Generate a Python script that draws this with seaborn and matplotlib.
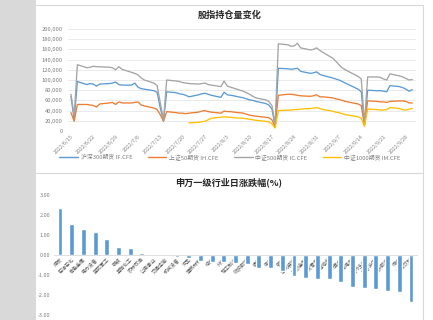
import pandas as pd
import matplotlib
matplotlib.use("Agg")
import matplotlib.pyplot as plt
import matplotlib.dates as mdates
from matplotlib.lines import Line2D
from matplotlib.patches import Rectangle
from matplotlib.ticker import FuncFormatter, FixedLocator
import seaborn as sns

# ---------------- data: index futures open interest (current-month contracts) ----------------
june_days = [15, 16, 17, 20, 21, 22, 23, 24, 27, 28, 29, 30]
july_days = [1, 4, 5, 6, 7, 8, 11, 12, 13, 14, 15, 18, 19, 20, 21, 22, 25, 26, 27, 28, 29]
aug_days = [1, 2, 3, 4, 5, 8, 9, 10, 11, 12, 15, 16, 17, 18, 19, 22, 23, 24, 25, 26, 29, 30, 31]
sep_days = [1, 2, 5, 6, 7, 8, 9, 13, 14, 15, 16, 19, 20, 21, 22, 23, 26, 27, 28, 29, 30]

series_names = ["沪深300期货 IF.CFE", "上证50期货 IH.CFE", "中证500期货 IC.CFE", "中证1000期货 IM.CFE"]
series_colors = ["#5B9BD5", "#ED7D31", "#A5A5A5", "#FFC000"]

if_oi = [68000, 22000, 97000, 91000, 93000, 92000, 88000, 92000, 93000, 94000, 96000, 91000,
         90000, 90000, 94000, 86000, 83000, 82000, 79000, 76000, 45000, 20000, 77000, 75000,
         73000, 72000, 70000, 67000, 71000, 73000, 74000, 72000, 70000,
         66000, 76000, 71000, 70000, 69000, 65000, 63000, 61000, 60000, 58000, 54000, 51000,
         43000, 10000, 123000, 122000, 121000, 122000, 123000, 117000, 113000, 114000, 116000,
         111000, 109000, 104000, 102000, 100000, 97000, 94000, 82000, 77000, 12000, 80000,
         79000, 79000, 78000, 77000, 89000, 87000, 85000, 82000, 78000, 81000]

ih_oi = [36000, 19000, 52000, 52000, 51000, 50000, 47000, 53000, 55000, 56000, 52000, 57000,
         55000, 55000, 56000, 57000, 51000, 49000, 45000, 42000, 32000, 19000, 38000, 36000,
         35000, 35000, 34000, 35000, 37000, 39000, 40000, 38000, 37000,
         35000, 39000, 38000, 38000, 37000, 35000, 33000, 31000, 30000, 29000, 27000, 26000,
         22000, 8000, 70000, 72000, 72000, 71000, 70000, 69000, 68000, 69000, 71000,
         67000, 67000, 65000, 63000, 62000, 60000, 58000, 53000, 50000, 11000, 59000,
         58000, 57000, 57000, 56000, 58000, 59000, 59000, 58000, 55000, 55000]

ic_oi = [72000, 30000, 130000, 124000, 125000, 127000, 126000, 126000, 125000, 124000, 120000, 126000,
         121000, 115000, 113000, 110000, 104000, 100000, 94000, 89000, 55000, 21000, 100000, 98000,
         97000, 95000, 94000, 93000, 92000, 93000, 94000, 91000, 90000,
         87000, 98000, 88000, 86000, 84000, 78000, 75000, 72000, 68000, 65000, 61000, 58000,
         50000, 13000, 171000, 169000, 166000, 167000, 172000, 163000, 159000, 160000, 163000,
         158000, 154000, 143000, 137000, 130000, 124000, 120000, 107000, 102000, 14000, 106000,
         106000, 105000, 102000, 100000, 112000, 108000, 106000, 103000, 100000, 101000]

im_oi = [None] * 27 + [
         16000, 17000, 18000, 19000, 22000, 25000,
         27000, 28000, 27000, 27000, 26000, 25000, 24000, 23000, 22000, 21000, 19000, 18000,
         14000, 6000, 40000, 41000, 41000, 42000, 42000, 43000, 44000, 45000, 46000,
         44000, 42000, 39000, 37000, 36000, 34000, 32000, 28000, 25000, 9000, 43000,
         42000, 41000, 41000, 42000, 46000, 44000, 42000, 41000, 43000, 44000]

# ---------------- data: Shenwan level-1 industry daily change (%) ----------------
industries = ["煤炭", "石油石化", "有色金属", "电力设备", "国防军工", "钢铁", "基础化工", "农林牧渔",
              "公用事业", "交通运输", "机械设备", "汽车", "建筑材料", "综合", "环保", "轻工制造",
              "纺织服饰", "通信", "电子", "银行", "建筑装饰", "非银金融", "商贸零售", "房地产",
              "计算机", "家用电器", "医药生物", "美容护理", "社会服务", "传媒", "食品饮料"]
pct_change = [2.35, 1.55, 1.30, 1.15, 0.82, 0.38, 0.33, 0.08,
              0.01, -0.01, -0.08, -0.15, -0.28, -0.35, -0.36, -0.42,
              -0.43, -0.63, -0.66, -0.80, -1.03, -1.15, -1.18, -1.22,
              -1.33, -1.62, -1.63, -1.70, -1.78, -1.83, -2.35]

# ---------------- build frames ----------------
dates = ([pd.Timestamp(2022, 6, d) for d in june_days] + [pd.Timestamp(2022, 7, d) for d in july_days]
         + [pd.Timestamp(2022, 8, d) for d in aug_days] + [pd.Timestamp(2022, 9, d) for d in sep_days])

frames = []
for name, vals in zip(series_names, [if_oi, ih_oi, ic_oi, im_oi]):
    frames.append(pd.DataFrame({"日期": dates, "合约": name, "持仓量": vals}))
oi_df = pd.concat(frames, ignore_index=True).dropna()
oi_df["持仓量"] = oi_df["持仓量"].astype(float)

ind_df = pd.DataFrame({"行业": industries, "涨跌幅": pct_change})

# ---------------- styling ----------------
sns.set_theme(style="white")
plt.rcParams["font.family"] = ["Noto Sans CJK SC", "DejaVu Sans"]
plt.rcParams["axes.unicode_minus"] = False

W, H = 433, 320
fig = plt.figure(figsize=(W / 100, H / 100), dpi=100)
fig.patch.set_facecolor("white")

def fx(px):
    return px / W

def fy(py):
    return 1 - py / H

# page margin and chart frames
fig.add_artist(Rectangle((0, 0), fx(36), 1, transform=fig.transFigure, color="#d9d9d9", lw=0, zorder=0))
frame_kw = dict(transform=fig.transFigure, color="#d9d9d9", lw=0.8)
fig.add_artist(Line2D([fx(36), fx(423)], [fy(5), fy(5)], **frame_kw))
fig.add_artist(Line2D([fx(36), fx(423)], [fy(173), fy(173)], **frame_kw))
fig.add_artist(Line2D([fx(423), fx(423)], [fy(5), 0], **frame_kw))

tick_color = "#7f7f7f"

# ---------------- top: open interest lines ----------------
ax1 = fig.add_axes([fx(67.8), fy(131), fx(415.5 - 67.8), (131 - 29) / H])
sns.lineplot(data=oi_df, x="日期", y="持仓量", hue="合约", hue_order=series_names,
             palette=series_colors, linewidth=0.95, estimator=None, legend=False, ax=ax1)
ax1.set_xlim(pd.Timestamp(2022, 6, 14), pd.Timestamp(2022, 10, 1))
ax1.set_ylim(0, 200000)
ax1.set_yticks(range(0, 200001, 20000))
ax1.yaxis.set_major_formatter(FuncFormatter(lambda v, p: f"{int(v):,}"))
week_ticks = pd.date_range("2022-06-15", "2022-09-28", freq="7D")
ax1.xaxis.set_major_locator(FixedLocator(mdates.date2num(week_ticks)))
ax1.xaxis.set_major_formatter(FuncFormatter(
    lambda v, p: (lambda d: f"{d.year}/{d.month}/{d.day}")(mdates.num2date(v))))
ax1.grid(axis="y", color="#e6e6e6", lw=0.6)
ax1.grid(axis="x", visible=False)
for s in ax1.spines.values():
    s.set_visible(False)
ax1.tick_params(axis="y", length=0, pad=3.5, labelsize=4.2, labelcolor=tick_color)
ax1.tick_params(axis="x", length=0, pad=2, labelsize=3.8, labelcolor=tick_color)
for lab in ax1.get_xticklabels():
    lab.set_rotation(45)
    lab.set_ha("right")
    lab.set_rotation_mode("anchor")
ax1.set_xlabel("")
ax1.set_ylabel("")

handles = [Line2D([], [], color=c, lw=1.0) for c in series_colors]
fig.legend(handles, series_names, loc="center", bbox_to_anchor=(fx(230), fy(157)), ncol=4,
           frameon=False, fontsize=4.2, handlelength=3.2, columnspacing=2.6, handletextpad=0.5,
           labelcolor=tick_color)

fig.text(fx(230), fy(15.5), "股指持仓量变化", ha="center", va="center",
         fontsize=6.6, fontweight="bold", color="#262626")

# ---------------- bottom: industry bars ----------------
ax2 = fig.add_axes([fx(54.15), 0, fx(362.7), 125 / H])
sns.barplot(data=ind_df, x="行业", y="涨跌幅", color="#5B9BD5", saturation=1, width=0.42, ax=ax2)
ax2.set_xlim(-0.5, len(industries) - 0.5)
ax2.set_ylim(-3.25, 3.0)
ax2.set_yticks([3, 2, 1, 0, -1, -2, -3])
ax2.yaxis.set_major_formatter(FuncFormatter(lambda v, p: f"{v:.2f}"))
for name, s in ax2.spines.items():
    s.set_visible(name == "bottom")
ax2.spines["bottom"].set_position(("data", 0))
ax2.spines["bottom"].set_color("#d9d9d9")
ax2.spines["bottom"].set_linewidth(0.6)
ax2.tick_params(axis="y", length=0, pad=3, labelsize=4.0, labelcolor=tick_color)
ax2.tick_params(axis="x", length=0, pad=1.5, labelsize=3.6, labelcolor="#595959")
for lab in ax2.get_xticklabels():
    lab.set_rotation(45)
    lab.set_ha("right")
    lab.set_rotation_mode("anchor")
ax2.set_xlabel("")
ax2.set_ylabel("")

fig.text(fx(229), fy(182.5), "申万一级行业日涨跌幅(%)", ha="center", va="center",
         fontsize=6.6, fontweight="bold", color="#262626")

fig.savefig("out.png", dpi=100)
